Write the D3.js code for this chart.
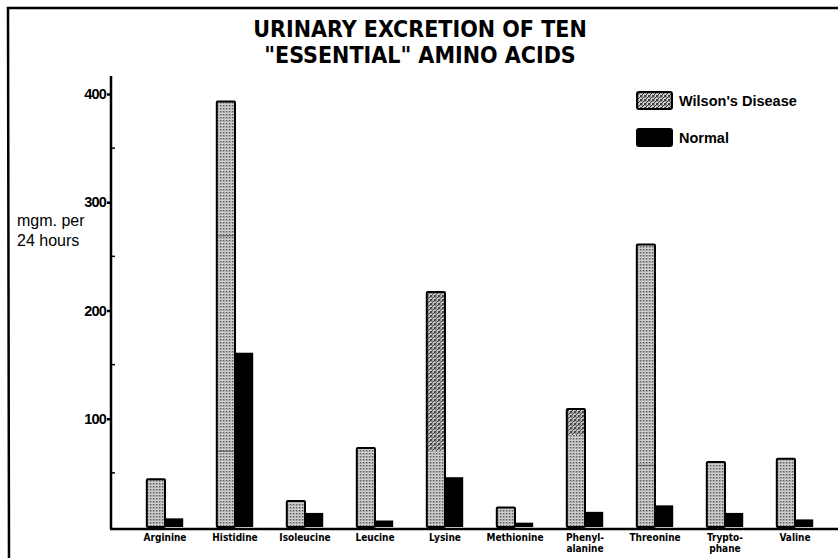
<!DOCTYPE html>
<meta charset="utf-8">
<style>
body { margin: 0; background: #fff; }
svg { display: block; }
.title { font-family: 'Liberation Sans Narrow', 'DejaVu Sans Condensed', sans-serif; font-weight: bold; font-size: 23px; }
.tick-label { font-family: 'Liberation Sans', sans-serif; font-weight: bold; font-size: 14.5px; letter-spacing: -0.8px; }
.cat { font-family: 'Liberation Sans Narrow', 'DejaVu Sans Condensed', sans-serif; font-weight: bold; font-size: 10px; }
.ylab { font-family: 'Liberation Sans', sans-serif; font-size: 16px; }
.legend { font-family: 'Liberation Sans', sans-serif; font-weight: bold; font-size: 14.5px; }
</style>
<body>
<script src="https://d3js.org/d3.v7.min.js"></script>
<script>
// amino acids, values (mgm. per 24 hours)
var categories = ['Arginine', 'Histidine', 'Isoleucine', 'Leucine', 'Lysine',
    'Methionine', 'Phenyl-|alanine', 'Threonine', 'Trypto-|phane', 'Valine']
var wilson = [44, 393, 24, 73, 217, 18, 109, 261, 60, 63]
var normal = [8, 161, 13, 6, 46, 4, 14, 20, 13, 7]
// darker cross-hatched part of some Wilson bars, [from, to]
var hatched = [null, null, null, null, [70, 217], null, [85, 109], null, null, null]
// thin division lines drawn inside some Wilson bars
var dividers = [[], [70, 269], [], [], [], [], [], [57], [], []]
var majorTicks = [100, 200, 300, 400]
var minorTicks = [50, 150, 250, 350]

var width = 838, height = 558

var svg = d3.select('body').append('svg')
    .attr('width', width)
    .attr('height', height)

var defs = svg.append('defs')
var dots = defs.append('pattern')
    .attr('id', 'stipple')
    .attr('patternUnits', 'userSpaceOnUse')
    .attr('width', 3).attr('height', 3)
dots.append('rect').attr('width', 3).attr('height', 3).attr('fill', '#dcdcdc')
dots.append('rect').attr('width', 1.5).attr('height', 1.5).attr('fill', '#4a4a4a')
dots.append('rect').attr('x', 1.5).attr('y', 1.5).attr('width', 1).attr('height', 1).attr('fill', '#8a8a8a')

var hatch = defs.append('pattern')
    .attr('id', 'hatch')
    .attr('patternUnits', 'userSpaceOnUse')
    .attr('width', 4).attr('height', 4)
hatch.append('rect').attr('width', 4).attr('height', 4).attr('fill', 'url(#stipple)')
hatch.append('path').attr('d', 'M-1,1 l2,-2 M0,4 l4,-4 M3,5 l2,-2')
    .attr('stroke', '#333').attr('stroke-width', 1)

// scales
var x = d3.scaleBand()
    .domain(categories)
    .range([130, 830])
    .paddingInner(0.48)
    .paddingOuter(0.24)

var xs = d3.scaleBand()
    .domain(['wilson', 'normal'])
    .range([0, x.bandwidth()])

var y = d3.scaleLinear()
    .domain([0, 400])
    .range([527, 94])

// page frame
svg.append('path')
    .attr('d', 'M9,558 L8,8 L838,8')
    .attr('fill', 'none')
    .attr('stroke', '#000')
    .attr('stroke-width', 2.5)

// title
svg.append('text').attr('class', 'title')
    .attr('x', 420).attr('y', 37).attr('text-anchor', 'middle')
    .text('URINARY EXCRETION OF TEN')
svg.append('text').attr('class', 'title')
    .attr('x', 420).attr('y', 63).attr('text-anchor', 'middle')
    .text('"ESSENTIAL" AMINO ACIDS')

// bars
var g = svg.selectAll('.group')
    .data(categories)
    .enter().append('g')
    .attr('class', 'group')
    .attr('transform', d => 'translate(' + x(d) + ',0)')

g.append('rect')
    .attr('x', xs('wilson'))
    .attr('width', xs.bandwidth())
    .attr('y', (d, i) => y(wilson[i]))
    .attr('height', (d, i) => y(0) - y(wilson[i]))
    .attr('fill', 'url(#stipple)')

g.filter((d, i) => hatched[i])
    .append('rect')
    .attr('x', xs('wilson'))
    .attr('width', xs.bandwidth())
    .attr('y', (d) => y(hatched[categories.indexOf(d)][1]))
    .attr('height', (d) => y(hatched[categories.indexOf(d)][0]) - y(hatched[categories.indexOf(d)][1]))
    .attr('fill', 'url(#hatch)')

g.each(function (d, i) {
    d3.select(this).selectAll('.div')
        .data(dividers[i])
        .enter().append('line')
        .attr('x1', xs('wilson')).attr('x2', xs('wilson') + xs.bandwidth())
        .attr('y1', v => y(v)).attr('y2', v => y(v))
        .attr('stroke', '#444').attr('stroke-width', 0.8)
})

g.append('rect')
    .attr('x', xs('wilson'))
    .attr('width', xs.bandwidth())
    .attr('y', (d, i) => y(wilson[i]))
    .attr('height', (d, i) => y(0) - y(wilson[i]))
    .attr('fill', 'none')
    .attr('stroke', '#000')
    .attr('stroke-width', 2)
    .attr('rx', 1)

g.append('rect')
    .attr('x', xs('normal'))
    .attr('width', xs.bandwidth())
    .attr('y', (d, i) => y(normal[i]))
    .attr('height', (d, i) => y(0) - y(normal[i]))
    .attr('fill', '#000')

// category labels
g.append('text')
    .attr('class', 'cat')
    .attr('text-anchor', 'middle')
    .attr('x', x.bandwidth() / 2)
    .attr('y', 541)
    .selectAll('tspan')
    .data(d => d.split('|'))
    .enter().append('tspan')
    .attr('x', x.bandwidth() / 2)
    .attr('dy', (d, i) => i ? 11 : 0)
    .text(d => d)

// axes
svg.append('line')
    .attr('x1', 111).attr('x2', 111)
    .attr('y1', 76).attr('y2', 529)
    .attr('stroke', '#000').attr('stroke-width', 2.5)
svg.append('line')
    .attr('x1', 110).attr('x2', 838)
    .attr('y1', 529).attr('y2', 529)
    .attr('stroke', '#000').attr('stroke-width', 2.5)

var yAxis = d3.axisLeft(y)
    .tickValues(majorTicks)
    .tickSize(4)
    .tickPadding(1)
var ya = svg.append('g')
    .attr('transform', 'translate(111,0)')
    .call(yAxis)
ya.select('.domain').remove()
ya.selectAll('line').attr('stroke-width', 2.5)
ya.selectAll('text').attr('class', 'tick-label').attr('font-family', null).attr('font-size', null)

svg.selectAll('.minor')
    .data(minorTicks)
    .enter().append('line')
    .attr('x1', 111).attr('x2', 115)
    .attr('y1', d => y(d)).attr('y2', d => y(d))
    .attr('stroke', '#000').attr('stroke-width', 1.5)

// y label
svg.append('text').attr('class', 'ylab').attr('x', 17).attr('y', 226).text('mgm. per')
svg.append('text').attr('class', 'ylab').attr('x', 17).attr('y', 246).text('24 hours')

// legend
var legend = [
    { name: "Wilson's Disease", fill: 'url(#hatch)' },
    { name: 'Normal', fill: '#000' }
]
var lg = svg.selectAll('.leg')
    .data(legend)
    .enter().append('g')
    .attr('transform', (d, i) => 'translate(637,' + (92 + i * 37) + ')')
lg.append('rect')
    .attr('width', 35).attr('height', 17)
    .attr('rx', 2)
    .attr('fill', d => d.fill)
    .attr('stroke', '#000').attr('stroke-width', 2)
lg.append('text')
    .attr('class', 'legend')
    .attr('x', 42).attr('y', 14)
    .text(d => d.name)
</script>
</body>
